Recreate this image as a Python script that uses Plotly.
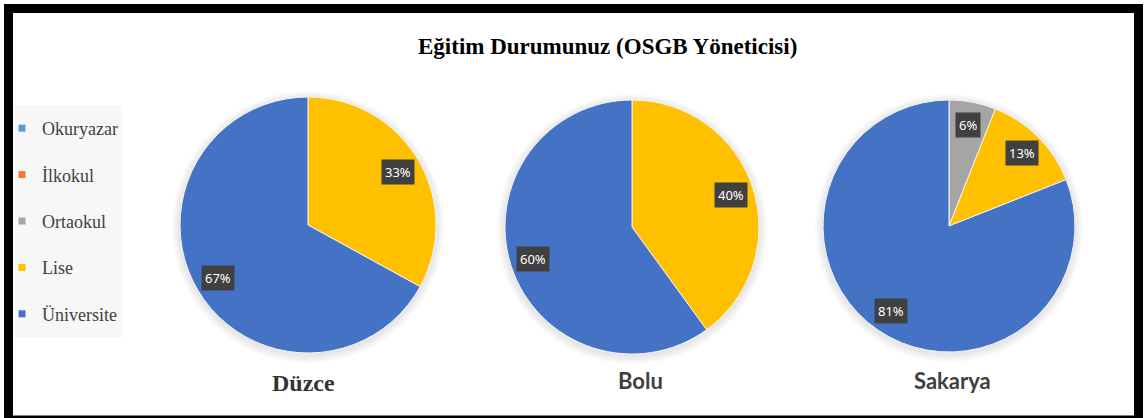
import math
import plotly.graph_objects as go

# ---------------- data ----------------
categories = ["Okuryazar", "İlkokul", "Ortaokul", "Lise", "Üniversite"]
colors = ["#5B9BD5", "#ED7D31", "#A5A5A5", "#FFC000", "#4472C4"]
cities = ["Düzce", "Bolu", "Sakarya"]
duzce = [0, 0, 0, 33, 67]
bolu = [0, 0, 0, 40, 60]
sakarya = [0, 0, 6, 13, 81]
title_text = "Eğitim Durumunuz (OSGB Yöneticisi)"

W, H = 1144, 418
series = [duzce, bolu, sakarya]
# pie centre (px) and radius (px)
geom = [(308, 225, 128), (632, 227, 127), (949, 226, 126)]
city_label_pos = [(303, 383), (640, 380), (952, 380)]
city_fonts = [
    dict(family="Liberation Serif", size=24, color="#333333", weight="bold"),
    dict(family="Lato", size=22, color="#404040", weight="bold"),
    dict(family="Lato", size=22, color="#404040", weight="bold"),
]


def px(x):
    return x / W


def py(y):
    return 1 - y / H


fig = go.Figure()
annotations = []
shapes = [
    dict(type="rect", xref="paper", yref="paper",
         x0=px(15), x1=px(122), y0=py(337), y1=py(105),
         fillcolor="#f7f7f7", line=dict(width=0), layer="below"),
]

for vals, (cx, cy, r) in zip(series, geom):
    # soft shadow
    for k in (8, 6, 4, 2):
        shapes.append(dict(
            type="circle", xref="paper", yref="paper", layer="below",
            x0=px(cx - r - k), x1=px(cx + r + k),
            y0=py(cy + 2 + r + k), y1=py(cy + 2 - r - k),
            fillcolor="rgba(0,0,0,0.022)", line=dict(width=0),
        ))
    fig.add_trace(go.Pie(
        labels=categories,
        values=vals,
        sort=False,
        direction="clockwise",
        rotation=0,
        marker=dict(colors=colors, line=dict(color="#f4f4f4", width=1)),
        textinfo="none",
        showlegend=False,
        domain=dict(x=[px(cx - r), px(cx + r)], y=[py(cy + r), py(cy - r)]),
        hoverinfo="label+percent",
    ))
    total = sum(vals)
    cum = 0
    for v in vals:
        if v > 0:
            mid = (cum + v / 2) / total * 2 * math.pi
            lx = cx + 0.82 * r * math.sin(mid)
            ly = cy - 0.82 * r * math.cos(mid)
            annotations.append(dict(
                x=px(lx), y=py(ly), xref="paper", yref="paper",
                text=f"{round(v / total * 100)}%", showarrow=False,
                font=dict(family="Noto Sans", size=13, color="white"),
                bgcolor="#404040", borderpad=3,
                xanchor="center", yanchor="middle",
            ))
        cum += v

# legend entries
for cat, col in zip(categories, colors):
    fig.add_trace(go.Scatter(
        x=[None], y=[None], mode="markers", name=cat,
        marker=dict(symbol="square", size=7, color=col),
        legendgroup=cat, showlegend=True,
    ))

for name, (lx, ly), f in zip(cities, city_label_pos, city_fonts):
    annotations.append(dict(
        x=px(lx), y=py(ly), xref="paper", yref="paper", text=name,
        showarrow=False, font=f, xanchor="center", yanchor="middle",
    ))

annotations.append(dict(
    x=px(607), y=py(46), xref="paper", yref="paper", text=title_text,
    showarrow=False, xanchor="center", yanchor="middle",
    font=dict(family="Liberation Serif", size=23, color="#000000", weight="bold"),
))

shapes.append(dict(type="rect", xref="paper", yref="paper",
                   x0=px(8.5), x1=px(1138.5), y0=py(420), y1=py(8.5),
                   line=dict(color="black", width=9), fillcolor="rgba(0,0,0,0)"))

fig.update_layout(
    width=W, height=H,
    margin=dict(l=0, r=0, t=0, b=0),
    paper_bgcolor="white", plot_bgcolor="rgba(0,0,0,0)",
    xaxis=dict(visible=False), yaxis=dict(visible=False),
    annotations=annotations, shapes=shapes,
    legend=dict(
        x=px(2), y=py(110), xanchor="left", yanchor="top",
        bgcolor="rgba(0,0,0,0)", tracegroupgap=20,
        font=dict(family="Liberation Serif", size=18, color="#404040"),
        itemclick=False, itemdoubleclick=False,
    ),
)

fig.write_html("out.html",
               config={"displayModeBar": False},
               post_script="document.body.style.margin='0px';document.body.style.overflow='hidden';")
